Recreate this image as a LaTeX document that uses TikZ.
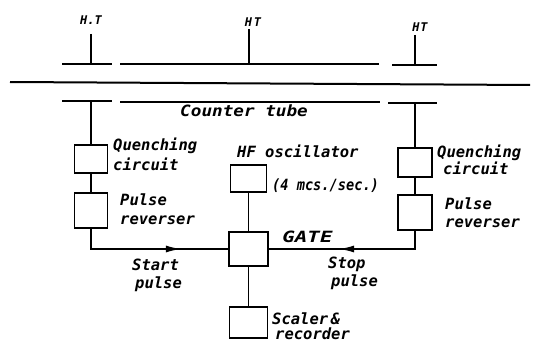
\documentclass[tikz,border=0pt]{standalone}
\usepackage{fontspec}
\newfontfamily\hand{DejaVu Sans Mono Bold Oblique}
\usetikzlibrary{arrows.meta,decorations.markings}
\begin{document}
\begin{tikzpicture}[x=1pt,y=-1pt,
  blk/.style={draw,line width=1.9pt,inner sep=0pt},
  wire/.style={line width=1.7pt},
  tube/.style={line width=2pt},
  lbl/.style={font=\hand\fontsize{15.5}{18}\selectfont,anchor=base west,inner sep=0pt},
  htl/.style={font=\hand\fontsize{12}{14}\selectfont,anchor=base,inner sep=0pt},
  arrmark/.style={postaction={decorate},decoration={markings,mark=at position #1 with {\arrow{Latex[length=15pt,width=7pt]}}}}
]
\useasboundingbox (0,0) rectangle (536,342);

% counter tube electrodes
\coordinate (tL1) at (62,64);  \coordinate (tL2) at (112,64);
\coordinate (tM1) at (120,64); \coordinate (tM2) at (379,64);
\coordinate (tR1) at (392,65); \coordinate (tR2) at (437,65);
\coordinate (w1) at (10,82);   \coordinate (w2) at (530,85);
\coordinate (bL1) at (62,101); \coordinate (bL2) at (112,101);
\coordinate (bM1) at (120,102);\coordinate (bM2) at (380,102);
\coordinate (bR1) at (388,103);\coordinate (bR2) at (437,103);
\draw[tube] (tL1) -- (tL2);
\draw[tube] (tM1) -- (tM2);
\draw[tube] (tR1) -- (tR2);
\draw[tube] (w1) -- (w2);
\draw[tube] (bL1) -- (bL2);
\draw[tube] (bM1) -- (bM2);
\draw[tube] (bR1) -- (bR2);

% H.T. leads
\node[htl] (ht1) at (91,25) {H.T};
\node[htl] (ht2) at (253,27) {H\hspace{2pt}T};
\node[htl] (ht3) at (420,32) {H\hspace{1pt}T};
\coordinate (h1) at (91,34);  \coordinate (h1b) at (91,64);
\coordinate (h2) at (249,29); \coordinate (h2b) at (249,64);
\coordinate (h3) at (415,35); \coordinate (h3b) at (415,65);
\draw[wire] (h1) -- (h1b);
\draw[wire] (h2) -- (h2b);
\draw[wire] (h3) -- (h3b);

\node[lbl,xscale=1.14,transform shape] (ct) at (180,117) {Counter tube};

% boxes
\node[blk,minimum width=33pt,minimum height=28pt] (qL) at (91,159) {};
\node[blk,minimum width=33pt,minimum height=35pt] (pL) at (91,210.5) {};
\node[blk,minimum width=36pt,minimum height=27pt] (hf) at (248.5,178.5) {};
\node[blk,minimum width=39pt,minimum height=34pt] (gate) at (248.5,249) {};
\node[blk,minimum width=38pt,minimum height=31pt] (sc) at (248.5,322.5) {};
\node[blk,minimum width=34pt,minimum height=29pt] (qR) at (415,162.5) {};
\node[blk,minimum width=34pt,minimum height=35pt] (pR) at (415,212.5) {};

% connectors
\coordinate (eL) at (91,101);
\coordinate (eR) at (415,103);
\draw[wire] (eL) -- (qL.north);
\draw[wire] (qL.south) -- (pL.north);
\draw[wire,arrmark=110pt] (pL.south) |- (gate.west);
\draw[wire] (eR) -- (qR.north);
\draw[wire] (qR.south) -- (pR.north);
\draw[wire,arrmark=94pt] (pR.south) |- (gate.east);
\draw[wire] (hf.south) -- (gate.north);
\draw[wire] (gate.south) -- (sc.north);

% labels
\node[lbl] (qLa) at (113,151) {Quenching};
\node[lbl] (qLb) at (113,171) {circuit};
\node[lbl] (pLa) at (120,206) {Pulse};
\node[lbl] (pLb) at (120,225) {reverser};
\node[lbl] (sta) at (132,270) {Start};
\node[lbl] (stb) at (135,288) {pulse};
\node[lbl] (hfa) at (237,158) {HF oscillator};
\node[lbl,xscale=0.88,transform shape] (hfb) at (272,191) {(4 mcs./sec.)};
\node[lbl,xscale=1.35,transform shape] (gt) at (282,243) {GATE};
\node[lbl] (spa) at (328,269) {Stop};
\node[lbl] (spb) at (331,286) {pulse};
\node[lbl] (sca) at (272,324) {Scaler\,\&};
\node[lbl] (scb) at (275,339) {recorder};
\node[lbl] (qRa) at (437,158) {Quenching};
\node[lbl] (qRb) at (443,175) {circuit};
\node[lbl] (pRa) at (445,210) {Pulse};
\node[lbl] (pRb) at (445,227) {reverser};
\end{tikzpicture}
\end{document}
